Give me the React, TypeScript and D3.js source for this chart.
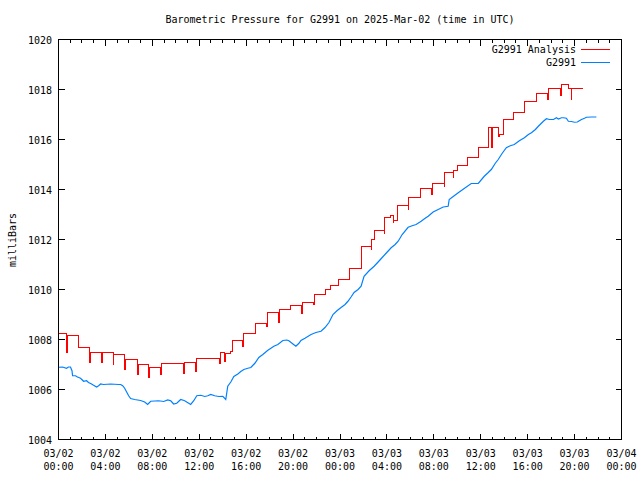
import React from "react";
import * as d3 from "d3";

// ---- Data (hours since 2025-03-02 00:00 UTC) ----
const title = "Barometric Pressure for G2991 on 2025-Mar-02 (time in UTC)";
const yLabel = "milliBars";
const seriesNames = ["G2991 Analysis", "G2991"];

const yTicks = [1004, 1006, 1008, 1010, 1012, 1014, 1016, 1018, 1020];
const xMajorHours = [0, 4, 8, 12, 16, 20, 24, 28, 32, 36, 40, 44, 48];
const xTickDates = ["03/02", "03/02", "03/02", "03/02", "03/02", "03/02", "03/03", "03/03", "03/03", "03/03", "03/03", "03/03", "03/04"];
const xTickTimes = ["00:00", "04:00", "08:00", "12:00", "16:00", "20:00", "00:00", "04:00", "08:00", "12:00", "16:00", "20:00", "00:00"];

// Analysis series: step changes (time, new level, optional downward spike)
const analysisTimes = [0, 0.68, 1.73, 2.65, 3.67, 4.67, 5.64, 6.72, 7.66, 8.71, 10.68, 11.7, 13.75, 14.18, 14.69, 14.86, 15.72, 16.83, 17.77, 18.79, 19.82, 20.75, 21.78, 22.8, 23.23, 23.83, 24.77, 25.84, 26.65, 26.93, 27.76, 28.27, 28.53, 28.87, 29.81, 30.88, 31.82, 32.88, 33.65, 34.05, 34.89, 35.85, 36.68, 36.95, 37.5, 37.9, 38.78, 39.76, 40.77, 41.72, 42.79, 43.52, 43.71, 44.67];
const analysisLevels = [1008.23, 1008.16, 1007.67, 1007.47, 1007.47, 1007.4, 1007.2, 1007.0, 1006.9, 1007.04, 1007.07, 1007.23, 1007.47, 1007.44, 1007.53, 1007.97, 1008.23, 1008.63, 1009.09, 1009.2, 1009.36, 1009.49, 1009.8, 1010.0, 1010.17, 1010.4, 1010.85, 1011.73, 1012.0, 1012.36, 1012.89, 1012.97, 1012.76, 1013.37, 1013.69, 1014.03, 1014.23, 1014.67, 1014.76, 1014.96, 1015.3, 1015.67, 1016.47, 1016.47, 1016.2, 1016.8, 1017.09, 1017.53, 1017.84, 1018.03, 1018.2, 1018.03, 1018.03, 1018.03];
const analysisSpikes: (number | null)[] = [null, 1007.5, null, 1007.08, 1007.07, 1007.0, 1006.8, 1006.6, 1006.47, 1006.6, 1006.64, 1006.73, 1007.05, 1007.13, null, null, 1007.73, null, 1008.53, 1008.69, null, 1009.03, 1009.4, null, null, null, null, null, 1011.6, null, 1012.24, null, 1012.67, null, 1013.2, null, 1013.8, 1014.13, 1014.47, null, null, null, null, 1015.67, 1016.13, null, null, null, null, 1017.6, 1017.76, null, 1017.6, null];

// Observed series
const obsTimes = [0, 0.34, 0.68, 0.85, 1.02, 1.15, 1.2, 1.45, 1.62, 1.88, 2.14, 2.39, 2.56, 2.82, 2.99, 3.25, 3.42, 3.59, 3.84, 4.44, 5.12, 5.3, 5.47, 5.64, 5.81, 5.98, 6.15, 6.49, 7.0, 7.35, 7.6, 7.86, 8.54, 8.97, 9.31, 9.57, 9.82, 10.08, 10.42, 10.76, 11.1, 11.27, 11.53, 11.79, 12.13, 12.47, 12.73, 12.98, 13.32, 13.67, 14.01, 14.26, 14.43, 14.69, 14.95, 15.29, 15.54, 15.8, 16.14, 16.4, 16.74, 17.08, 17.42, 17.85, 18.11, 18.36, 18.7, 19.13, 19.47, 19.64, 19.99, 20.24, 20.5, 20.67, 21.01, 21.53, 21.95, 22.38, 22.72, 23.06, 23.4, 23.74, 24.09, 24.43, 24.68, 24.94, 25.2, 25.54, 25.8, 26.05, 26.48, 26.91, 27.25, 27.5, 27.93, 28.36, 28.7, 28.96, 29.3, 29.81, 30.15, 30.49, 30.92, 31.26, 31.52, 31.94, 32.37, 32.8, 33.22, 33.31, 33.65, 34.08, 34.59, 35.19, 35.79, 36.3, 36.64, 36.9, 37.24, 37.49, 37.83, 38.18, 38.52, 38.86, 39.29, 39.72, 40.06, 40.32, 40.66, 40.91, 41.17, 41.34, 41.6, 41.85, 42.2, 42.45, 42.62, 42.88, 43.05, 43.3, 43.47, 43.73, 43.99, 44.24, 44.33, 44.59, 44.84, 45.01, 45.44, 45.86];
const obsValues = [1006.89, 1006.9, 1006.85, 1006.9, 1006.9, 1006.75, 1006.55, 1006.55, 1006.5, 1006.45, 1006.33, 1006.35, 1006.28, 1006.22, 1006.17, 1006.1, 1006.15, 1006.22, 1006.2, 1006.22, 1006.2, 1006.2, 1006.15, 1006.05, 1005.9, 1005.75, 1005.64, 1005.6, 1005.56, 1005.5, 1005.4, 1005.53, 1005.55, 1005.52, 1005.58, 1005.55, 1005.42, 1005.45, 1005.6, 1005.55, 1005.45, 1005.4, 1005.55, 1005.75, 1005.77, 1005.72, 1005.75, 1005.8, 1005.75, 1005.72, 1005.73, 1005.6, 1006.13, 1006.3, 1006.52, 1006.62, 1006.72, 1006.8, 1006.85, 1006.88, 1007.05, 1007.28, 1007.4, 1007.57, 1007.65, 1007.73, 1007.8, 1007.96, 1007.98, 1007.95, 1007.82, 1007.73, 1007.85, 1007.96, 1008.05, 1008.2, 1008.28, 1008.33, 1008.48, 1008.68, 1009.0, 1009.15, 1009.28, 1009.4, 1009.53, 1009.7, 1009.88, 1010.0, 1010.13, 1010.53, 1010.75, 1010.93, 1011.1, 1011.23, 1011.45, 1011.67, 1011.8, 1011.93, 1012.2, 1012.49, 1012.55, 1012.6, 1012.73, 1012.85, 1012.93, 1013.1, 1013.2, 1013.3, 1013.33, 1013.6, 1013.72, 1013.87, 1014.04, 1014.24, 1014.24, 1014.53, 1014.68, 1014.8, 1015.05, 1015.2, 1015.45, 1015.67, 1015.75, 1015.8, 1015.95, 1016.07, 1016.2, 1016.27, 1016.4, 1016.53, 1016.65, 1016.73, 1016.83, 1016.8, 1016.8, 1016.87, 1016.82, 1016.87, 1016.87, 1016.85, 1016.73, 1016.72, 1016.69, 1016.7, 1016.73, 1016.8, 1016.85, 1016.89, 1016.9, 1016.9];

const colors = ["#ff0000", "#0080ff"];

export default function App() {
  const W = 640, H = 480;
  const left = 58.5, right = 621.5, top = 39.5, bottom = 439.5;
  const x = d3.scaleLinear().domain([0, 48]).range([left, right]);
  const y = d3.scaleLinear().domain([1004, 1020]).range([bottom, top]);
  const font = "'DejaVu Sans Mono', 'Liberation Mono', monospace";
  const snap = (v: number) => Math.round(v - 0.5) + 0.5;

  // build analysis points
  const redPts: [number, number][] = [];
  analysisTimes.forEach((t, i) => {
    const s = analysisSpikes[i];
    if (s != null) {
      redPts.push([t, s]);
      redPts.push([t + 0.06, analysisLevels[i]]);
    } else {
      redPts.push([t, analysisLevels[i]]);
    }
  });
  const redLine = d3
    .line<[number, number]>()
    .x((d) => snap(x(d[0])))
    .y((d) => snap(y(d[1])))
    .curve(d3.curveStepAfter);
  const bluePts: [number, number][] = obsTimes.map((t, i) => [t, obsValues[i]]);
  const blueLine = d3
    .line<[number, number]>()
    .x((d) => x(d[0]))
    .y((d) => y(d[1]));

  const minorHours = d3.range(0, 49);

  return (
    <svg width={W} height={H} style={{ position: "absolute", left: 0, top: 0, background: "#fff" }} fontFamily={font} fontSize={10}>
      <rect width={W} height={H} fill="#fff" />
      <text x={340} y={23} textAnchor="middle" fill="#000">{title}</text>
      {/* ticks */}
      <g stroke="#000" strokeWidth={1} shapeRendering="crispEdges">
        {minorHours.map((h) => {
          const major = h % 4 === 0;
          const len = major ? 6 : 3;
          const xx = snap(x(h));
          return (
            <g key={"xt" + h}>
              <line x1={xx} x2={xx} y1={bottom} y2={bottom - len} />
              <line x1={xx} x2={xx} y1={top} y2={top + len} />
            </g>
          );
        })}
        {yTicks.map((v) => (
          <g key={"yt" + v}>
            <line x1={left} x2={left + 6} y1={y(v)} y2={y(v)} />
            <line x1={right} x2={right - 6} y1={y(v)} y2={y(v)} />
          </g>
        ))}
      </g>
      {/* y labels */}
      {yTicks.map((v) => (
        <text key={"yl" + v} x={52} y={y(v) + 4} textAnchor="end" fill="#000">{v}</text>
      ))}
      {/* x labels */}
      {xMajorHours.map((h, i) => (
        <g key={"xl" + h}>
          <text x={x(h)} y={457} textAnchor="middle" fill="#000">{xTickDates[i]}</text>
          <text x={x(h)} y={470} textAnchor="middle" fill="#000">{xTickTimes[i]}</text>
        </g>
      ))}
      <text transform="translate(16,240) rotate(-90)" textAnchor="middle" fill="#000">{yLabel}</text>
      {/* data */}
      <path d={redLine(redPts) || ""} fill="none" stroke={colors[0]} strokeWidth={1} shapeRendering="crispEdges" />
      <path d={blueLine(bluePts) || ""} fill="none" stroke={colors[1]} strokeWidth={1.2} />
      {/* legend */}
      {seriesNames.map((n, i) => (
        <g key={"lg" + n}>
          <text x={576} y={53 + i * 13} textAnchor="end" fill="#000">{n}</text>
          <line x1={581} x2={610} y1={49.5 + i * 13} y2={49.5 + i * 13} stroke={colors[i]} strokeWidth={1} shapeRendering="crispEdges" />
        </g>
      ))}
      {/* frame */}
      <rect x={left} y={top} width={right - left} height={bottom - top} fill="none" stroke="#000" strokeWidth={1} shapeRendering="crispEdges" />
    </svg>
  );
}
